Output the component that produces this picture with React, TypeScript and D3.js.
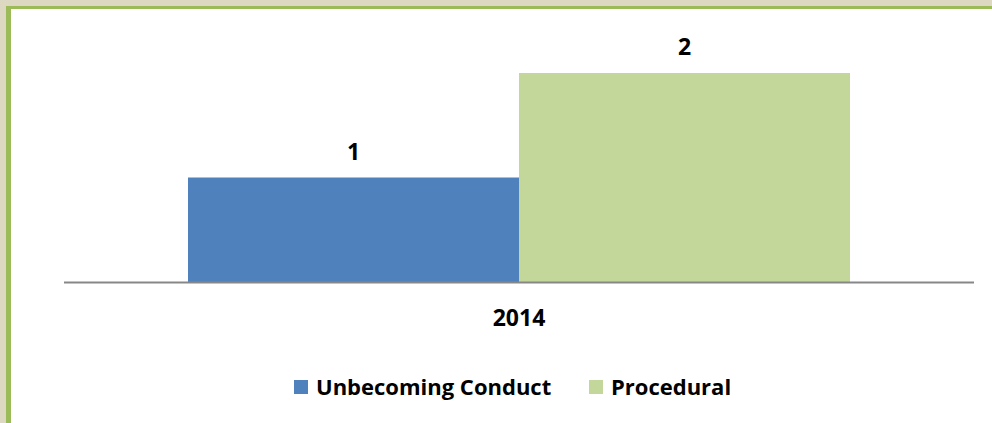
import React from "react";
import * as d3 from "d3";

const categories = ["2014"];
const seriesNames = ["Unbecoming Conduct", "Procedural"];
const seriesValues = [1, 2];
const seriesColors = ["#4f81bd", "#c4d79b"];

const W = 992;
const H = 423;
const FONT = "'Open Sans', Lato, 'Liberation Sans', sans-serif";

export default function App() {
  const plotLeft = 64;
  const plotRight = 974;
  const baseY = 282;
  const x0 = d3.scaleBand().domain(categories).range([plotLeft, plotRight]).paddingInner(0).paddingOuter(0);
  const groupPad = 124;
  const gx = x0(categories[0])!;
  const x1 = d3
    .scaleBand()
    .domain(seriesNames)
    .range([gx + groupPad, gx + x0.bandwidth() - groupPad]);
  const y = d3.scaleLinear().domain([0, 2]).range([baseY, 73]);

  const legendItems = [
    { name: seriesNames[0], color: seriesColors[0], x: 294 },
    { name: seriesNames[1], color: seriesColors[1], x: 589 },
  ];

  return (
    <div style={{ position: "fixed", left: 0, top: 0, width: W, height: H }}>
      <svg width={W} height={H} style={{ display: "block" }}>
        <rect x={0} y={0} width={W} height={H} fill="#ddd8c1" />
        <rect x={6} y={6} width={W - 6} height={H - 6} fill="#9bbb59" />
        <rect x={11} y={9} width={W - 11} height={H - 9} fill="#ffffff" />
        {categories.map((c) =>
          seriesNames.map((s, i) => {
            const v = seriesValues[i];
            const bx = x1(s)!;
            const bw = x1.bandwidth();
            return (
              <g key={c + s}>
                <rect x={bx} y={y(v)} width={bw} height={baseY - y(v)} fill={seriesColors[i]} />
                <text
                  x={bx + bw / 2}
                  y={y(v) - 18}
                  textAnchor="middle"
                  fontFamily={FONT}
                  fontWeight="bold"
                  fontSize={23}
                  fill="#000"
                >
                  {d3.format("d")(v)}
                </text>
              </g>
            );
          })
        )}
        <line x1={plotLeft} x2={plotRight} y1={baseY + 0.5} y2={baseY + 0.5} stroke="#878787" strokeWidth={2} />
        {categories.map((c) => (
          <text
            key={c}
            x={x0(c)! + x0.bandwidth() / 2}
            y={326}
            textAnchor="middle"
            fontFamily={FONT}
            fontWeight="bold"
            fontSize={23}
            fill="#000"
          >
            {c}
          </text>
        ))}
        {legendItems.map((l) => (
          <g key={l.name}>
            <rect x={l.x} y={380} width={14} height={14} fill={l.color} />
            <text x={l.x + 22} y={395} fontFamily={FONT} fontWeight="bold" fontSize={22} fill="#000">
              {l.name}
            </text>
          </g>
        ))}
      </svg>
    </div>
  );
}
